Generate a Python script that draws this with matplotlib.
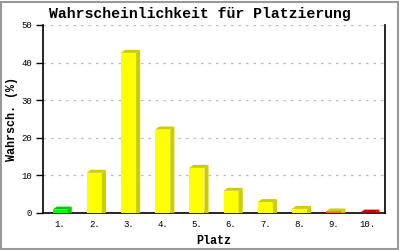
import matplotlib.pyplot as plt
from matplotlib.patches import Polygon, Rectangle

plt.rc('font', family='Liberation Mono')

places = ['1.', '2.', '3.', '4.', '5.', '6.', '7.', '8.', '9.', '10.']
probs = [0.9, 10.7, 42.6, 22.2, 12.0, 5.9, 2.9, 1.1, 0.4, 0.1]
front_cols = ['#00ff00'] + ['#ffff00'] * 7 + ['#ff6600', '#cc0000']
side_cols = ['#00cc00'] + ['#cccc00'] * 7 + ['#cccc00', '#cc0000']

fig = plt.figure(figsize=(4, 2.5), dpi=100)
ax = fig.add_axes([0.1075, 0.148, 0.855, 0.752])

w = 0.44
dx, dy = 0.12, 0.8  # fake 3d depth (data units)
xs = list(range(1, len(probs) + 1))
ax.bar(xs, probs, width=w, color=front_cols, zorder=3)
for x, v, sc in zip(xs, probs, side_cols):
    x0, x1 = x - w / 2, x + w / 2
    side = Polygon([(x1, 0), (x1 + dx, 0), (x1 + dx, v + dy), (x1, v)],
                   closed=True, facecolor=sc, edgecolor='none', zorder=3)
    top = Polygon([(x0, v), (x0 + dx, v + dy), (x1 + dx, v + dy), (x1, v)],
                  closed=True, facecolor=sc, edgecolor='none', zorder=3)
    ax.add_patch(side)
    ax.add_patch(top)

ax.set_xlim(0.5, 10.5)
ax.set_ylim(0, 50)
ax.set_yticks([0, 10, 20, 30, 40, 50])
ax.set_xticks(xs)
ax.set_xticklabels(places)
ax.tick_params(axis='x', length=0, labelsize=6.5, pad=5)
ax.tick_params(axis='y', length=5, width=1, labelsize=6.5, pad=3)
ax.yaxis.grid(True, color='#bbbbbb', linestyle=(0, (2, 4)), linewidth=0.9, zorder=0)
ax.spines['top'].set_visible(False)
for s in ['left', 'right', 'bottom']:
    ax.spines[s].set_linewidth(1.2)

ax.set_xlabel('Platz', fontsize=8.5, fontweight='bold', labelpad=4)
ax.set_ylabel('Wahrsch. (%)', fontsize=8.5, fontweight='bold')
ax.yaxis.set_label_coords(-0.072, 0.5)
fig.text(0.5, 0.943, 'Wahrscheinlichkeit für Platzierung', ha='center', va='center',
         fontsize=10.7, fontweight='bold')

fig.patches.append(Rectangle((0.002, 0.004), 0.993, 0.99, transform=fig.transFigure,
                             fill=False, edgecolor='#999999', linewidth=1.5))

plt.savefig('out.png', dpi=100)
